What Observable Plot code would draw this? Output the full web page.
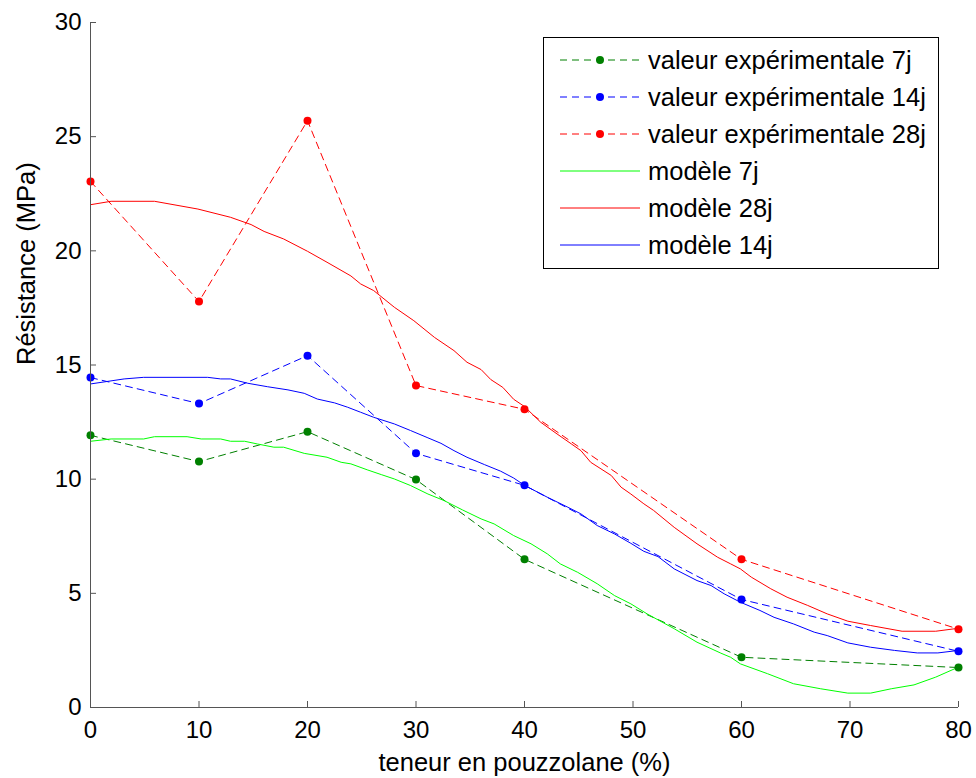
<!DOCTYPE html>
<html>
<head>
<meta charset="utf-8">
<script src="https://cdn.jsdelivr.net/npm/d3@7"></script>
<script src="https://cdn.jsdelivr.net/npm/@observablehq/plot@0.6"></script>
<style>
  html, body { margin: 0; padding: 0; background: white; }
  #wrap { position: relative; width: 976px; height: 778px; font-family: "Liberation Sans", Arial, sans-serif; }
  #legend { position: absolute; left: 543px; top: 37px; width: 394px; height: 230px; border: 1px solid #000; background: white; }
</style>
</head>
<body>
<div id="wrap"><div id="legend"></div></div>
<script>
const xTicks = [0, 10, 20, 30, 40, 50, 60, 70, 80];
const yTicks = [0, 5, 10, 15, 20, 25, 30];
const xLabel = "teneur en pouzzolane (%)";
const yLabel = "Résistance (MPa)";

const xExp = [0, 10, 20, 30, 40, 60, 80];
const exp7 = [11.92, 10.77, 12.08, 9.98, 6.49, 2.20, 1.75];
const exp14 = [14.45, 13.31, 15.41, 11.13, 9.73, 4.73, 2.46];
const exp28 = [23.04, 17.78, 25.70, 14.10, 13.06, 6.49, 3.43];

const xModel7 = [0,1.9,4.9,5.9,8.9,10.2,12.0,12.9,14.2,15.4,16.9,17.8,19.7,21.8,23.1,24.0,25.5,26.8,28.0,29.5,31.1,32.6,34.3,36.0,37.2,39.0,40.6,42.1,43.3,44.9,46.7,48.3,49.8,51.3,53.8,55.9,58.1,59.0,59.9,62.4,64.8,67.3,69.8,71.9,73.8,75.9,77.9,80];
const model7 = [11.66,11.76,11.76,11.86,11.86,11.76,11.76,11.66,11.66,11.54,11.40,11.40,11.13,10.96,10.74,10.67,10.41,10.20,10.01,9.72,9.35,9.06,8.65,8.26,8.04,7.53,7.17,6.73,6.29,5.92,5.42,4.90,4.54,4.10,3.45,2.86,2.38,2.20,1.91,1.48,1.04,0.82,0.63,0.63,0.82,0.99,1.33,1.77];

const xModel14 = [0,3.1,4.9,10.8,12.0,12.9,14.5,16.3,18.2,19.7,20.9,22.5,23.7,24.9,26.1,28.0,29.5,31.1,32.3,33.5,34.7,36.3,37.8,39.0,40.0,42.1,44.0,45.2,46.7,48.3,49.8,51.0,52.3,53.8,55.9,57.2,58.4,59.9,61.7,63.0,64.8,66.7,67.9,69.8,71.9,74.1,76.2,78.1,80];
const model14 = [14.17,14.39,14.46,14.46,14.39,14.39,14.2,14.05,13.91,13.76,13.51,13.34,13.15,12.93,12.71,12.42,12.13,11.81,11.57,11.25,10.96,10.64,10.35,10.05,9.73,9.21,8.77,8.48,7.97,7.60,7.19,6.84,6.61,6.07,5.56,5.34,4.98,4.61,4.25,3.95,3.66,3.30,3.15,2.83,2.64,2.50,2.39,2.39,2.50];

const xModel28 = [0,1.9,5.9,9.9,12.9,14.8,16.0,17.8,20.0,21.8,24.0,24.9,26.1,28.0,29.8,31.7,33.5,34.7,36.0,36.9,38.0,39.0,40.0,41.5,43.0,44.3,45.2,46.1,48.0,48.9,49.8,51.0,51.9,53.8,55.9,57.8,59.0,59.9,60.9,62.7,64.2,66.1,67.9,69.8,71.9,74.8,77.9,80];
const model28 = [22.02,22.17,22.17,21.83,21.47,21.15,20.85,20.52,19.98,19.5,18.9,18.55,18.26,17.53,16.94,16.21,15.63,15.12,14.8,14.36,14.02,13.5,13.18,12.49,11.98,11.55,11.25,10.74,10.16,9.65,9.35,8.92,8.63,7.89,7.17,6.58,6.29,6.07,5.71,5.20,4.83,4.47,4.10,3.78,3.59,3.34,3.34,3.47];

const seriesLabels = ["valeur expérimentale 7j", "valeur expérimentale 14j", "valeur expérimentale 28j", "modèle 7j", "modèle 28j", "modèle 14j"];
const seriesColors = ["#008000", "#0000ff", "#ff0000", "#00ff00", "#ff0000", "#0000ff"];
const seriesDashed = [true, true, true, false, false, false];

const pts = (xs, ys) => xs.map((x, i) => ({x, y: ys[i]}));
const expSets = [pts(xExp, exp7), pts(xExp, exp14), pts(xExp, exp28)];
const modelSets = [pts(xModel7, model7), pts(xModel28, model28), pts(xModel14, model14)];

const axisColor = "#555";
const dash = "7,5";
const font = "'Liberation Sans', Arial, sans-serif";

const marks = [];
expSets.forEach((data, i) => {
  marks.push(Plot.line(data, {x: "x", y: "y", stroke: seriesColors[i], strokeWidth: 1, strokeDasharray: dash}));
});
modelSets.forEach((data, i) => {
  marks.push(Plot.line(data, {x: "x", y: "y", stroke: seriesColors[i + 3], strokeWidth: 1}));
});
expSets.forEach((data, i) => {
  marks.push(Plot.dot(data, {x: "x", y: "y", r: 4, fill: seriesColors[i], stroke: "none"}));
});

const chart = Plot.plot({
  width: 976,
  height: 778,
  marginLeft: 90,
  marginRight: 18,
  marginTop: 22,
  marginBottom: 71,
  x: {domain: [0, 80]},
  y: {domain: [0, 30]},
  style: {fontFamily: font, background: "white", color: "#000"},
  marks: [
    ...marks,
    Plot.ruleX([0], {stroke: axisColor}),
    Plot.ruleY([0], {stroke: axisColor}),
    Plot.tickY(yTicks, {y: d => d, insetRight: 862, stroke: axisColor}),
    Plot.tickX(xTicks, {x: d => d, insetTop: 679, stroke: axisColor}),
    Plot.axisY(yTicks, {tickSize: 0, tickPadding: 9, fontSize: 24, label: null, fill: "#000"}),
    Plot.axisX(xTicks, {tickSize: 0, tickPadding: 13, fontSize: 24, label: null, fill: "#000"}),
    Plot.text([xLabel], {text: d => d, frameAnchor: "bottom", lineAnchor: "middle", dy: 55, fontSize: 25.5, fill: "#000"}),
    Plot.text([yLabel], {text: d => d, frameAnchor: "left", lineAnchor: "middle", dx: -64, rotate: -90, fontSize: 25.5, fill: "#000"})
  ]
});
document.getElementById("wrap").prepend(chart);
chart.style.position = "absolute";
chart.style.left = "0px";
chart.style.top = "0px";

// Legend
const rowH = 37;
const leg = d3.select("#legend").append("svg").attr("width", 394).attr("height", 230);
seriesLabels.forEach((lab, i) => {
  const cy = 22 + i * rowH;
  const g = leg.append("g").attr("transform", `translate(0,${cy})`);
  g.append("line").attr("x1", 16).attr("x2", 96).attr("y1", 0).attr("y2", 0)
    .attr("stroke", seriesColors[i]).attr("stroke-width", 1)
    .attr("stroke-dasharray", seriesDashed[i] ? dash : null);
  if (seriesDashed[i]) g.append("circle").attr("cx", 56).attr("cy", 0).attr("r", 4).attr("fill", seriesColors[i]);
  g.append("text").attr("x", 104).attr("y", 0).attr("dy", "0.35em")
    .attr("font-size", 25.5).attr("font-family", font).attr("fill", "#000").text(lab);
});
</script>
</body>
</html>
